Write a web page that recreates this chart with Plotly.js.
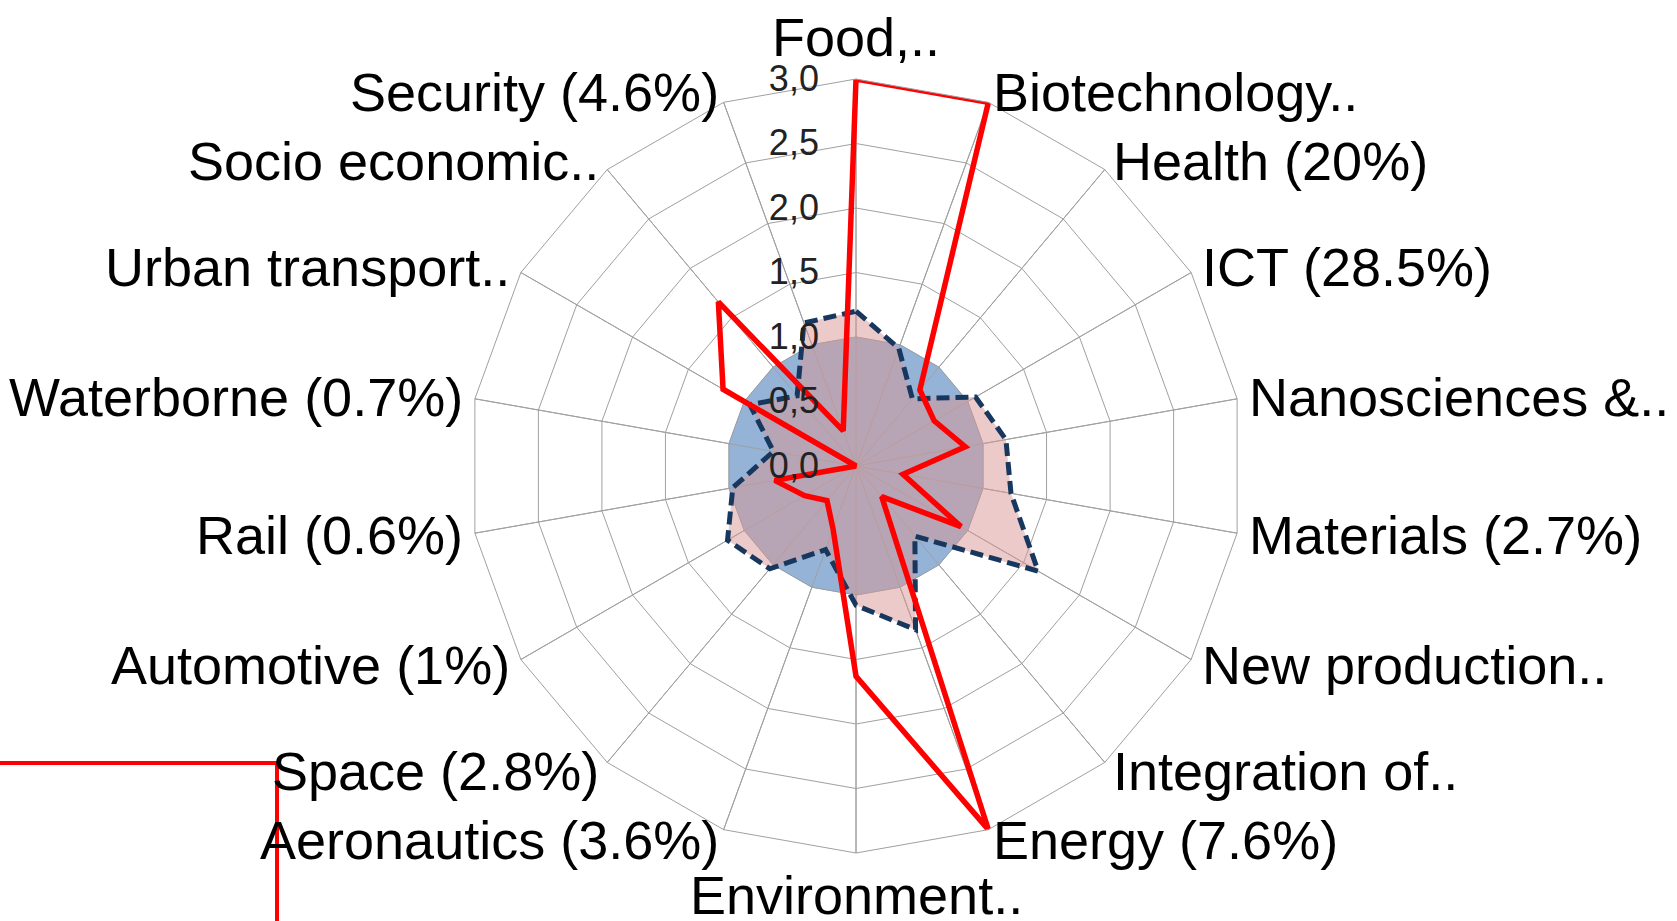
<!DOCTYPE html>
<html>
<head>
<meta charset="utf-8">
<script src="https://cdn.plot.ly/plotly-3.0.1.min.js"></script>
<style>html,body{margin:0;padding:0;background:#fff;}#chart{width:1677px;height:921px;}</style>
</head>
<body>
<div id="chart"></div>
<script>
// Categories (clockwise from top)
var categories = [
  "Food,..", "Biotechnology..", "Health (20%)", "ICT (28.5%)", "Nanosciences &..",
  "Materials (2.7%)", "New production..", "Integration of..", "Energy (7.6%)",
  "Environment..", "Aeronautics (3.6%)", "Space (2.8%)", "Automotive (1%)",
  "Rail (0.6%)", "Waterborne (0.7%)", "Urban transport..", "Socio economic..",
  "Security (4.6%)"
];
// Reference level (blue filled area)
var referenceValues = [1.0,1.0,1.0,1.0,1.0,1.0,1.0,1.0,1.0,1.0,1.0,1.0,1.0,1.0,1.0,1.0,1.0,1.0];
// Pink filled area with dark dashed border
var dashedValues = [1.20,0.97,0.68,1.07,1.18,1.22,1.63,0.71,1.35,1.08,0.69,1.04,1.15,0.97,0.65,0.95,0.71,1.18];
// Red line
var redValues = [3.0,3.0,0.77,0.70,0.86,0.37,0.94,0.31,3.0,1.63,0.52,0.35,0.46,0.64,0.0,1.19,1.66,0.29];
var radialTicks = [0,0.5,1.0,1.5,2.0,2.5,3.0];

function closed(arr){ return arr.concat([arr[0]]); }

var rMax = radialTicks[radialTicks.length-1];
var spokeR = [], spokeT = [];
categories.forEach(function(c){ spokeR.push(0, rMax, null); spokeT.push(c, c, null); });

var traces = [
  {type:'scatterpolar', r: closed(referenceValues), theta: closed(categories), mode:'lines',
   fill:'toself', fillcolor:'#95B3D7', line:{color:'rgba(150,150,150,0.7)', width:1},
   hoverinfo:'skip', showlegend:false, cliponaxis:false},
  {type:'scatterpolar', r: spokeR, theta: spokeT, mode:'lines', connectgaps:false,
   line:{color:'#a0a0a0', width:1}, hoverinfo:'skip', showlegend:false, cliponaxis:false},
  {type:'scatterpolar', r: closed(dashedValues), theta: closed(categories), mode:'lines',
   fill:'toself', fillcolor:'rgba(217,150,148,0.5)', line:{color:'#17375E', width:5, dash:'13px,6px'},
   showlegend:false, cliponaxis:false},
  {type:'scatterpolar', r: closed(redValues), theta: closed(categories), mode:'lines',
   line:{color:'#FF0000', width:5.5}, showlegend:false, cliponaxis:false}
];

var W = 1677, H = 921;
var cx = 856, cy = 466, R = 387;
var labelPad = 11;
var n = categories.length;
var annotations = categories.map(function(c, i){
  var th = i * 2 * Math.PI / n, s = Math.sin(th), co = Math.cos(th);
  var px = cx + (R + labelPad) * s, py = cy - (R + labelPad) * co;
  var side = Math.abs(s) < 0.05;
  return {xref:'paper', yref:'paper', x: px / W, y: 1 - py / H,
    xanchor: side ? 'center' : (s > 0 ? 'left' : 'right'),
    yanchor: side ? (co > 0 ? 'bottom' : 'top') : 'middle',
    text: c, showarrow:false, borderpad:0,
    font:{size:54, color:'#000', family:'"Liberation Sans", Arial, sans-serif'}};
});

var layout = {
  width: W, height: H,
  margin:{l:0,r:0,t:0,b:0},
  paper_bgcolor:'#ffffff',
  separators: ',.',
  showlegend:false,
  font:{family:'"Liberation Sans", Arial, sans-serif', color:'#000'},
  polar:{
    domain:{x:[(cx-R)/W,(cx+R)/W], y:[(H-cy-R)/H,(H-cy+R)/H]},
    gridshape:'linear',
    bgcolor:'rgba(0,0,0,0)',
    angularaxis:{
      type:'category', categoryarray: categories, direction:'clockwise', rotation:90,
      showticklabels:false, showline:true, linecolor:'#a0a0a0', linewidth:1,
      gridcolor:'#a0a0a0', gridwidth:1, ticks:''
    },
    radialaxis:{
      range:[0,rMax], tickvals: radialTicks, tickformat:'.1f', angle:90, side:'counterclockwise',
      tickangle:90, showline:false, gridcolor:'#a0a0a0', gridwidth:1,
      ticks:'outside', ticklen:24, tickcolor:'rgba(0,0,0,0)',
      tickfont:{size:36, color:'#222'}
    }
  },
  annotations: annotations,
  shapes:[
    {type:'line', xref:'paper', yref:'paper', x0:0, x1:277/W, y0:1-763/H, y1:1-763/H, line:{color:'#FF0000', width:4}},
    {type:'line', xref:'paper', yref:'paper', x0:277/W, x1:277/W, y0:1-763/H, y1:0, line:{color:'#FF0000', width:4}}
  ]
};
Plotly.newPlot('chart', traces, layout, {displayModeBar:false, staticPlot:true});
</script>
</body>
</html>
